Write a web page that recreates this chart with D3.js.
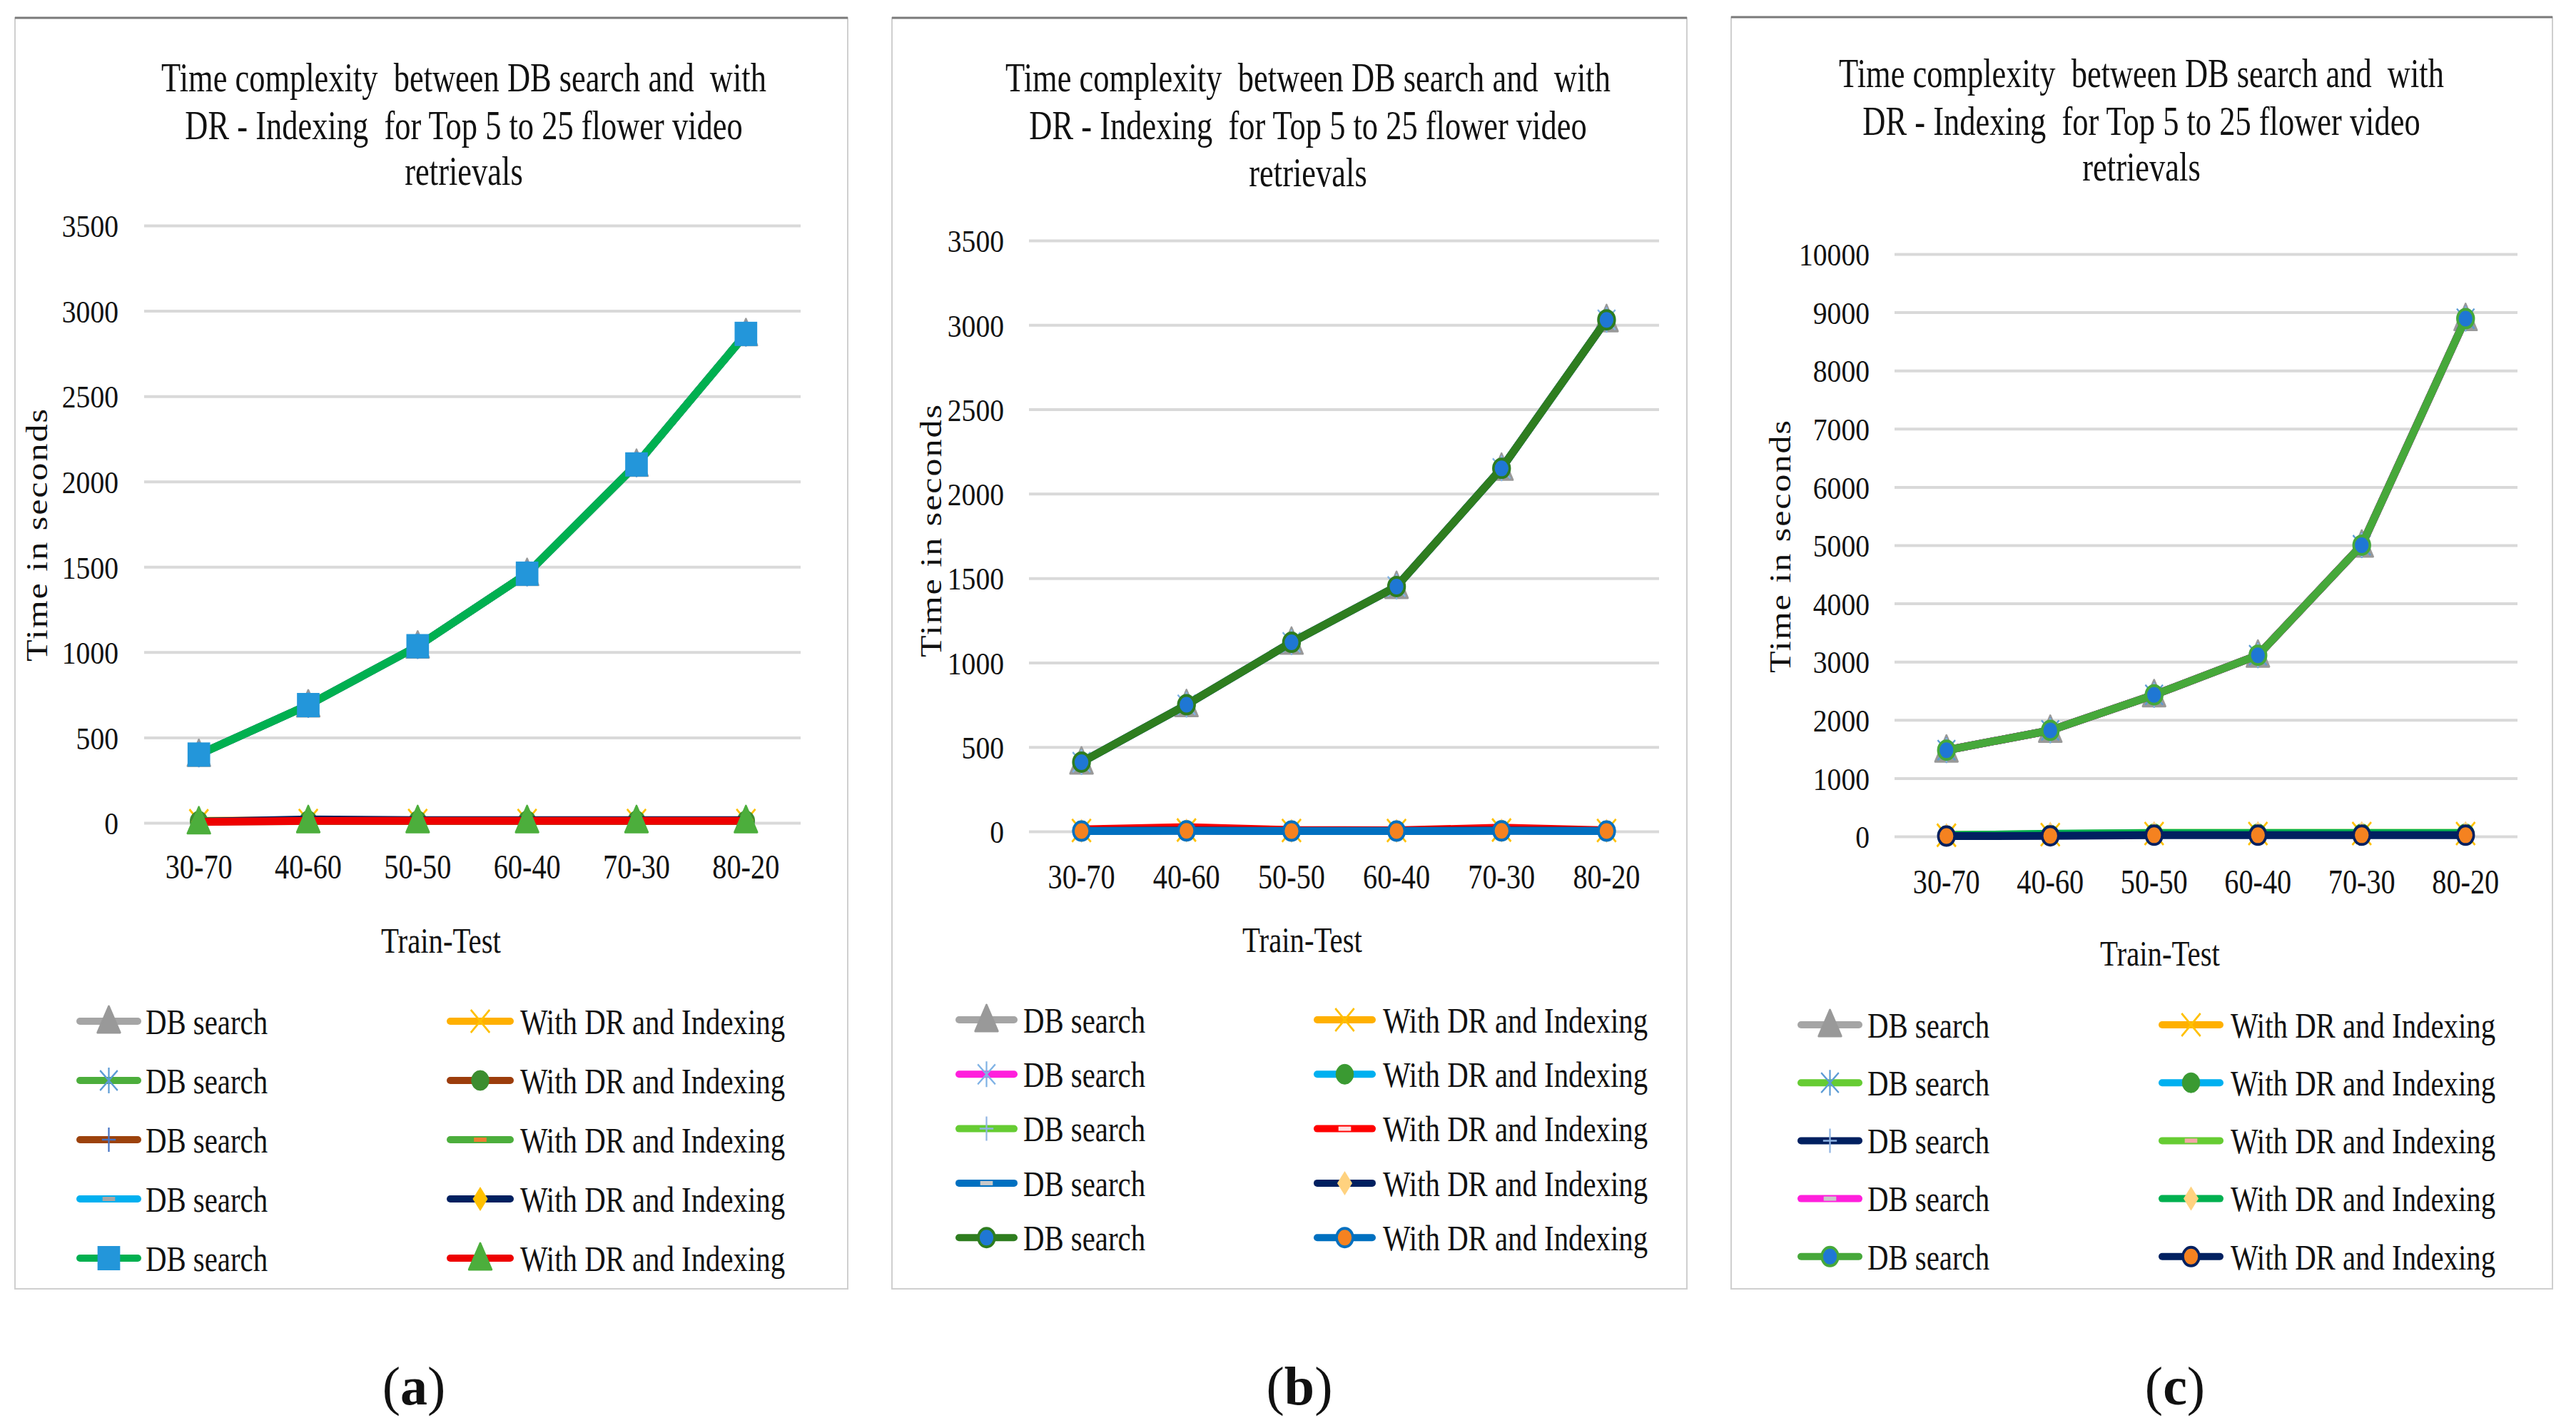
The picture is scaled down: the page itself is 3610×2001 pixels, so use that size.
<!DOCTYPE html>
<html>
<head>
<meta charset="utf-8">
<script src="https://cdn.jsdelivr.net/npm/d3@7"></script>
<style>
  html, body { margin: 0; padding: 0; background: #fff; }
  svg { display: block; }
  text { font-family: "Liberation Serif", "Times New Roman", serif; fill: #111; white-space: pre; }
</style>
</head>
<body>
<svg id="chart" width="3610" height="2001"></svg>
<script>
(function () {
  // ---- data ----
  const categories = ["30-70", "40-60", "50-50", "60-40", "70-30", "80-20"];
  const titleLines = [
    "Time complexity  between DB search and  with",
    "DR - Indexing  for Top 5 to 25 flower video",
    "retrievals",
  ];
  const dbLabel = "DB search";
  const drLabel = "With DR and Indexing";

  const ticksAB = [0, 500, 1000, 1500, 2000, 2500, 3000, 3500];
  const ticksC = [0, 1000, 2000, 3000, 4000, 5000, 6000, 7000, 8000, 9000, 10000];

  // panel (a): five DB search series (they lie on top of each other), five DR series
  const dbSearchA = [
    [400, 690, 1035, 1460, 2100, 2865],
    [400, 690, 1035, 1460, 2100, 2865],
    [400, 690, 1035, 1460, 2100, 2865],
    [400, 690, 1035, 1460, 2100, 2865],
    [400, 690, 1035, 1460, 2100, 2865],
  ];
  const withDrA = [
    [12, 14, 14, 14, 14, 14],
    [10, 12, 12, 12, 12, 12],
    [8, 10, 10, 10, 10, 10],
    [6, 20, 16, 16, 16, 16],
    [5, 12, 12, 12, 12, 12],
  ];

  // panel (b)
  const dbSearchB = [
    [410, 750, 1120, 1450, 2150, 3030],
    [410, 750, 1120, 1450, 2150, 3030],
    [410, 750, 1120, 1450, 2150, 3030],
    [410, 750, 1120, 1450, 2150, 3030],
    [410, 750, 1120, 1450, 2150, 3030],
  ];
  const withDrB = [
    [5, 8, 5, 5, 8, 5],
    [4, 6, 4, 4, 6, 4],
    [12, 25, 8, 6, 22, 6],
    [3, 5, 3, 3, 5, 3],
    [2, 3, 2, 2, 3, 2],
  ];

  // panel (c)
  const dbSearchC = [
    [1480, 1820, 2430, 3110, 5000, 8890],
    [1480, 1820, 2430, 3110, 5000, 8890],
    [1480, 1820, 2430, 3110, 5000, 8890],
    [1480, 1820, 2430, 3110, 5000, 8890],
    [1480, 1820, 2430, 3110, 5000, 8890],
  ];
  const withDrC = [
    [20, 30, 50, 50, 50, 50],
    [15, 25, 45, 45, 45, 45],
    [25, 40, 60, 60, 60, 60],
    [20, 45, 55, 55, 55, 55],
    [5, 10, 20, 20, 20, 20],
  ];

  // ---- series styles (line colour, marker) ----
  const GRAY = "#a5a5a5", GOLD = "#ffb000", NAVY = "#002060", CYAN = "#00b0f0";
  const stylesA = {
    db: [
      { line: GRAY, mk: "triangle", fill: "#999999" },
      { line: "#4cae3c", mk: "star", fill: "#5b9bd5" },
      { line: "#9c420c", mk: "plus", fill: "#4472c4" },
      { line: CYAN, mk: "dash", fill: "#a5a5a5" },
      { line: "#00b050", mk: "square", fill: "#2396da" },
    ],
    dr: [
      { line: GOLD, mk: "x", fill: "#ffc000" },
      { line: "#9c3d0c", mk: "circle", fill: "#3c8d2f" },
      { line: "#4cae3c", mk: "dash", fill: "#ed7d31" },
      { line: NAVY, mk: "diamond", fill: "#ffc000" },
      { line: "#ee0000", mk: "triangle", fill: "#4cae3c" },
    ],
  };
  const stylesB = {
    db: [
      { line: GRAY, mk: "triangle", fill: "#999999" },
      { line: "#ff1fdc", mk: "star", fill: "#7fb2e5" },
      { line: "#66cc33", mk: "plus", fill: "#8fb4e3" },
      { line: "#0070c0", mk: "dash", fill: "#c8c8c8" },
      { line: "#2e7d1f", mk: "circle", fill: "#1f77d4", stroke: "#2e7d1f" },
    ],
    dr: [
      { line: GOLD, mk: "x", fill: "#ffc000" },
      { line: CYAN, mk: "circle", fill: "#3a9a32" },
      { line: "#ff0000", mk: "dash", fill: "#ffe0e0" },
      { line: NAVY, mk: "diamond", fill: "#ffd27f" },
      { line: "#0070c0", mk: "circle", fill: "#f58220", stroke: "#0070c0" },
    ],
  };
  const stylesC = {
    db: [
      { line: GRAY, mk: "triangle", fill: "#999999" },
      { line: "#66cc33", mk: "star", fill: "#5b9bd5" },
      { line: NAVY, mk: "plus", fill: "#8fb4e3" },
      { line: "#ff1fdc", mk: "dash", fill: "#c8c8c8" },
      { line: "#46a83a", mk: "circle", fill: "#1f77d4", stroke: "#46a83a" },
    ],
    dr: [
      { line: GOLD, mk: "x", fill: "#ffc000" },
      { line: CYAN, mk: "circle", fill: "#3a9a32" },
      { line: "#66cc33", mk: "dash", fill: "#f4a6a6" },
      { line: "#00b050", mk: "diamond", fill: "#ffd27f" },
      { line: NAVY, mk: "circle", fill: "#f58220", stroke: NAVY },
    ],
  };

  // ---- layout of the three panels ----
  const panels = [
    {
      box: [21, 25, 1188, 1806], plot: [202, 1122, 316, 1153], yMax: 3500, ticks: ticksAB,
      titleX: 650, titleY: [108, 175, 239], yTitle: [51, 749], xTitle: [618, 1317],
      tickGap: 36, catGap: 61, legRows: [1431, 83], col1: [107, 198, 204], col2: [626, 720, 729],
      caption: [580, 1941, "a"], db: dbSearchA, dr: withDrA, styles: stylesA,
    },
    {
      box: [1250, 25, 2364, 1806], plot: [1442, 2325, 337, 1165], yMax: 3500, ticks: ticksAB,
      titleX: 1833, titleY: [108, 175, 241], yTitle: [1304, 743], xTitle: [1825, 1316],
      tickGap: 35, catGap: 63, legRows: [1429, 76.3], col1: [1339, 1426, 1434], col2: [1841, 1928, 1938],
      caption: [1821, 1941, "b"], db: dbSearchB, dr: withDrB, styles: stylesB,
    },
    {
      box: [2426, 24, 3577, 1806], plot: [2655, 3528, 356, 1172], yMax: 10000, ticks: ticksC,
      titleX: 3001, titleY: [102, 169, 233], yTitle: [2494, 765], xTitle: [3027, 1335],
      tickGap: 35, catGap: 63, legRows: [1436, 81.2], col1: [2519, 2610, 2617], col2: [3025, 3116, 3126],
      caption: [3048, 1941, "c"], db: dbSearchC, dr: withDrC, styles: stylesC,
    },
  ];

  const svg = d3.select("#chart");
  svg.append("rect").attr("width", 3610).attr("height", 2001).attr("fill", "#fff");

  // condensed text, like the squeezed original
  function label(g, x, y, str, size, sx, anchor) {
    return g.append("text")
      .attr("transform", `translate(${x},${y}) scale(${sx},1)`)
      .attr("text-anchor", anchor || "middle")
      .attr("dy", "0.35em")
      .attr("font-size", size)
      .text(str);
  }

  function marker(g, s, cx, cy) {
    const m = g.append("g").attr("transform", `translate(${cx},${cy}) scale(0.88,1)`);
    const f = s.fill;
    switch (s.mk) {
      case "triangle":
        m.append("path").attr("d", "M0,-21L18,16L-18,16Z").attr("fill", f).attr("stroke", f)
          .attr("stroke-width", 3).attr("stroke-linejoin", "round");
        break;
      case "square":
        m.append("rect").attr("x", -18).attr("y", -17).attr("width", 36).attr("height", 34).attr("fill", f);
        break;
      case "circle":
        m.append("circle").attr("r", s.stroke ? 13 : 14).attr("fill", f)
          .attr("stroke", s.stroke || f).attr("stroke-width", s.stroke ? 4 : 1);
        break;
      case "diamond":
        m.append("path").attr("d", "M0,-17L12,0L0,17L-12,0Z").attr("fill", f);
        break;
      case "star":
        m.append("path").attr("d", "M0,-18V18M-14,-14L14,14M-14,14L14,-14")
          .attr("stroke", f).attr("stroke-width", 2.5).attr("fill", "none");
        break;
      case "x":
        m.append("path").attr("d", "M-15,-16L15,16M-15,16L15,-16")
          .attr("stroke", f).attr("stroke-width", 3).attr("fill", "none");
        break;
      case "plus":
        m.append("path").attr("d", "M0,-17V17M-11,0H11")
          .attr("stroke", f).attr("stroke-width", 2.5).attr("fill", "none");
        break;
      case "dash":
        m.append("rect").attr("x", -10).attr("y", -3).attr("width", 20).attr("height", 6).attr("fill", f);
        break;
    }
  }

  panels.forEach((p) => {
    const g = svg.append("g");
    const [bx0, by0, bx1, by1] = p.box;

    // frame
    g.append("rect").attr("x", bx0).attr("y", by0).attr("width", bx1 - bx0).attr("height", by1 - by0)
      .attr("fill", "#fff").attr("stroke", "#cfcfcf").attr("stroke-width", 2);
    g.append("line").attr("x1", bx0).attr("x2", bx1).attr("y1", by0).attr("y2", by0)
      .attr("stroke", "#7a7a7a").attr("stroke-width", 3);

    // title
    titleLines.forEach((t, i) => label(g, p.titleX, p.titleY[i], t, 57, 0.78));

    const [px0, px1, pyTop, pyZero] = p.plot;
    const x = d3.scaleBand().domain(categories).range([px0, px1]);
    const y = d3.scaleLinear().domain([0, p.yMax]).range([pyZero, pyTop]);
    const cx = (c) => x(c) + x.bandwidth() / 2;

    // y axis with gridlines
    const yAxis = g.append("g").attr("transform", `translate(${px0},0)`)
      .call(d3.axisLeft(y).tickValues(p.ticks).tickSize(-(px1 - px0)).tickFormat(d3.format("d")));
    yAxis.select(".domain").remove();
    yAxis.selectAll(".tick line").attr("stroke", "#d9d9d9").attr("stroke-width", 4);
    yAxis.selectAll(".tick text")
      .attr("x", null).attr("dy", "0.35em")
      .attr("transform", `translate(${-p.tickGap},0) scale(0.88,1)`)
      .attr("font-size", 45).attr("font-family", "Liberation Serif, Times New Roman, serif")
      .attr("fill", "#111");

    // x axis labels
    const xAxis = g.append("g").attr("transform", `translate(0,${pyZero})`)
      .call(d3.axisBottom(x).tickSize(0));
    xAxis.select(".domain").remove();
    xAxis.selectAll(".tick text")
      .attr("y", null).attr("dy", "0.35em")
      .attr("transform", `translate(0,${p.catGap}) scale(0.84,1)`)
      .attr("font-size", 48).attr("font-family", "Liberation Serif, Times New Roman, serif")
      .attr("fill", "#111");

    // axis titles
    label(g, p.xTitle[0], p.xTitle[1], "Train-Test", 51, 0.8);
    g.append("text")
      .attr("transform", `translate(${p.yTitle[0]},${p.yTitle[1]}) rotate(-90) scale(1,0.85)`)
      .attr("text-anchor", "middle").attr("dy", "0.35em")
      .attr("font-size", 50).attr("letter-spacing", 2)
      .text("Time in seconds");

    // series: Excel order DB1, DR1, DB2, DR2, ... (later on top)
    const line = d3.line().x((d, i) => cx(categories[i])).y((d) => y(d));
    for (let k = 0; k < 5; k++) {
      [[p.db[k], p.styles.db[k]], [p.dr[k], p.styles.dr[k]]].forEach(([vals, s]) => {
        g.append("path").datum(vals).attr("d", line)
          .attr("fill", "none").attr("stroke", s.line).attr("stroke-width", 11)
          .attr("stroke-linejoin", "round").attr("stroke-linecap", "round");
        vals.forEach((v, i) => marker(g, s, cx(categories[i]), y(v)));
      });
    }

    // legend
    for (let k = 0; k < 5; k++) {
      const ly = p.legRows[0] + k * p.legRows[1];
      [[p.col1, p.styles.db[k], dbLabel], [p.col2, p.styles.dr[k], drLabel]].forEach(([col, s, name]) => {
        g.append("line").attr("x1", col[0] + 5).attr("x2", col[1] - 5).attr("y1", ly).attr("y2", ly)
          .attr("stroke", s.line).attr("stroke-width", 10).attr("stroke-linecap", "round");
        marker(g, s, (col[0] + col[1]) / 2, ly);
        label(g, col[2], ly, name, 51, 0.8, "start");
      });
    }

    // sub-caption
    const cap = g.append("text")
      .attr("transform", `translate(${p.caption[0]},${p.caption[1]})`)
      .attr("text-anchor", "middle").attr("dy", "0.35em").attr("font-size", 76);
    cap.append("tspan").text("(");
    cap.append("tspan").attr("font-weight", "bold").text(p.caption[2]);
    cap.append("tspan").text(")");
  });
})();
</script>
</body>
</html>
